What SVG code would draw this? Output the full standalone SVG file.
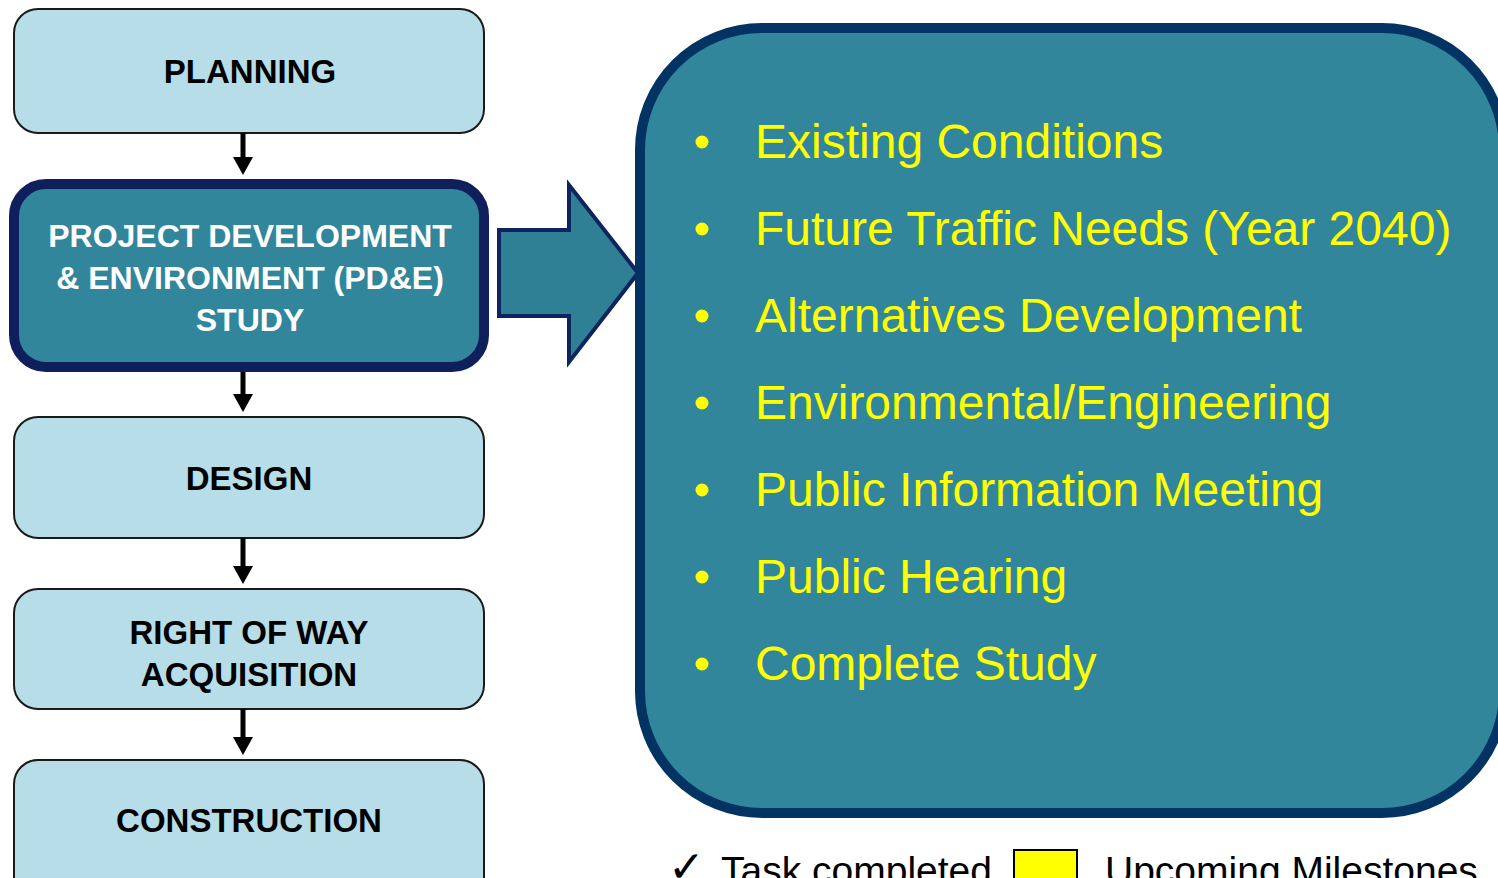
<svg xmlns="http://www.w3.org/2000/svg" width="1498" height="878" viewBox="0 0 1498 878">
<defs>
<style>
.lb{fill:#b7dde8;stroke:#1a1a1a;stroke-width:2}
.lt{font-family:"Liberation Sans",Arial,sans-serif;font-weight:bold;font-size:33px;fill:#000;text-anchor:middle}
.wt{font-family:"Liberation Sans",Arial,sans-serif;font-weight:bold;font-size:32px;fill:#fff;text-anchor:middle}
.bt{font-family:"Liberation Sans",Arial,sans-serif;font-size:48px;fill:#ffff00}
.lg{font-family:"Liberation Sans",Arial,sans-serif;font-size:39px;fill:#000}
.conn{stroke:#000;stroke-width:5;fill:none;marker-end:url(#ah)}
</style>
<marker id="ah" markerUnits="userSpaceOnUse" markerWidth="18" markerHeight="20" refX="0" refY="10" orient="auto">
<path d="M0,0 L18,10 L0,20 Z" fill="#000"/>
</marker>
</defs>
<rect width="1498" height="878" fill="#fff"/>
<g id="planning">
<rect class="lb" x="14" y="9" width="470" height="124" rx="24"/>
<text class="lt" x="250" y="83" font-size="34">PLANNING</text>
</g>
<g id="pde">
<rect x="14" y="184" width="470" height="183" rx="32" fill="#32869c" stroke="#0e1f5c" stroke-width="10"/>
<text class="wt" x="250" y="247">PROJECT DEVELOPMENT</text>
<text class="wt" x="250" y="289">&amp; ENVIRONMENT (PD&amp;E)</text>
<text class="wt" x="250" y="331">STUDY</text>
</g>
<g id="design">
<rect class="lb" x="14" y="417" width="470" height="121" rx="24"/>
<text class="lt" x="249" y="490">DESIGN</text>
</g>
<g id="row">
<rect class="lb" x="14" y="589" width="470" height="120" rx="24"/>
<text class="lt" x="249" y="644">RIGHT OF WAY</text>
<text class="lt" x="249" y="686">ACQUISITION</text>
</g>
<g id="construction">
<rect class="lb" x="14" y="760" width="470" height="150" rx="24"/>
<text class="lt" x="249" y="832">CONSTRUCTION</text>
</g>
<g id="connectors">
<line class="conn" x1="243" y1="133" x2="243" y2="157"/>
<line class="conn" x1="243" y1="372" x2="243" y2="394"/>
<line class="conn" x1="243" y1="538" x2="243" y2="566"/>
<line class="conn" x1="243" y1="709" x2="243" y2="737"/>
<path id="block-arrow" d="M499,230 L569,230 L569,185 L638,273 L569,362 L569,316 L499,316 Z" fill="#2f8095" stroke="#0e245e" stroke-width="4" stroke-linejoin="miter"/>
</g>
<g id="tasks">
<rect x="640" y="28" width="864" height="785" rx="122" fill="#32869c" stroke="#023363" stroke-width="10"/>
<g fill="#ffff00">
<circle cx="702" cy="142" r="6.5"/>
<circle cx="702" cy="229" r="6.5"/>
<circle cx="702" cy="316" r="6.5"/>
<circle cx="702" cy="403" r="6.5"/>
<circle cx="702" cy="490" r="6.5"/>
<circle cx="702" cy="577" r="6.5"/>
<circle cx="702" cy="664" r="6.5"/>
</g>
<text class="bt" x="755" y="158">Existing Conditions</text>
<text class="bt" x="755" y="245">Future Traffic Needs (Year 2040)</text>
<text class="bt" x="755" y="332">Alternatives Development</text>
<text class="bt" x="755" y="419">Environmental/Engineering</text>
<text class="bt" x="755" y="506">Public Information Meeting</text>
<text class="bt" x="755" y="593">Public Hearing</text>
<text class="bt" x="755" y="680">Complete Study</text>
</g>
<g id="legend">
<text x="668" y="882" font-family="DejaVu Sans,sans-serif" font-size="44" fill="#000">✓</text>
<text class="lg" x="721" y="884">Task completed</text>
<rect x="1014" y="850" width="63" height="40" fill="#ffff00" stroke="#000" stroke-width="2"/>
<text class="lg" x="1105" y="884">Upcoming Milestones</text>
</g>
</svg>
